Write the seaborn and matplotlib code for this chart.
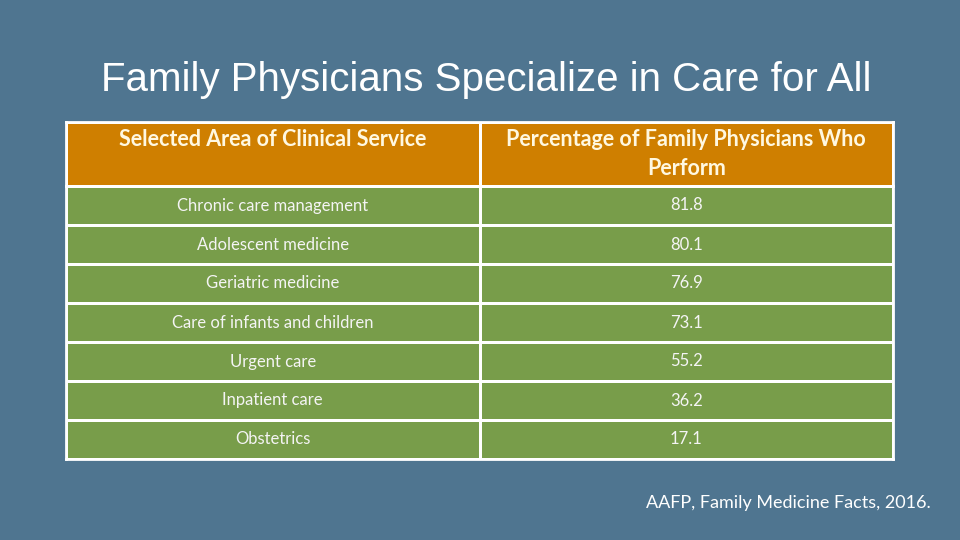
import matplotlib
matplotlib.use("Agg")
import matplotlib.pyplot as plt
from matplotlib.colors import ListedColormap
import numpy as np
import pandas as pd
import seaborn as sns

# table content
headers = ["Selected Area of Clinical Service", "Percentage of Family Physicians Who\nPerform"]
services = ["Chronic care management", "Adolescent medicine", "Geriatric medicine",
            "Care of infants and children", "Urgent care", "Inpatient care", "Obstetrics"]
percent = [81.8, 80.1, 76.9, 73.1, 55.2, 36.2, 17.1]

BG = "#4F7590"
ORANGE = "#CF7F00"
GREEN = "#789D4A"

sns.set_theme(style="white")
plt.rcParams['font.family'] = ['Lato', 'DejaVu Sans']

fig = plt.figure(figsize=(9.6, 5.4), dpi=100)
fig.patch.set_facecolor(BG)

# Title
fig.text(0.507, 0.852, "Family Physicians Specialize in Care for All", ha='center', va='center',
         color='white', fontsize=29, family=['Liberation Sans', 'DejaVu Sans'])

# Header row
ax_head = fig.add_axes([66 / 960, 1 - 186 / 540, 827 / 960, 64 / 540])
head_labels = np.array([[headers[0] + "\n ", headers[1]]])
sns.heatmap(np.zeros((1, 2)), ax=ax_head, cmap=ListedColormap([ORANGE]), cbar=False,
            annot=head_labels, fmt='', linewidths=2, linecolor='white',
            annot_kws={'color': '#FFF8E1', 'fontsize': 15.5, 'fontweight': 'bold',
                       'linespacing': 1.5})

# Body rows
df = pd.DataFrame({'service': services, 'percent': percent})
body_labels = np.column_stack([df['service'], df['percent'].map(lambda v: f"{v:.1f}")])
ax_body = fig.add_axes([66 / 960, 1 - 459 / 540, 827 / 960, 273 / 540])
sns.heatmap(np.zeros((len(df), 2)), ax=ax_body, cmap=ListedColormap([GREEN]), cbar=False,
            annot=body_labels, fmt='', linewidths=2, linecolor='white',
            annot_kws={'color': '#F4F4F4', 'fontsize': 12})

for ax in (ax_head, ax_body):
    ax.set_xticks([])
    ax.set_yticks([])
    ax.set_xlabel('')
    ax.set_ylabel('')
    for s in ax.spines.values():
        s.set_visible(True)
        s.set_color('white')
        s.set_linewidth(2)

# Source
fig.text(931 / 960, 1 - 503 / 540, "AAFP, Family Medicine Facts, 2016.", ha='right', va='center',
         color='white', fontsize=13)

fig.savefig("out.png", dpi=100, facecolor=BG)
